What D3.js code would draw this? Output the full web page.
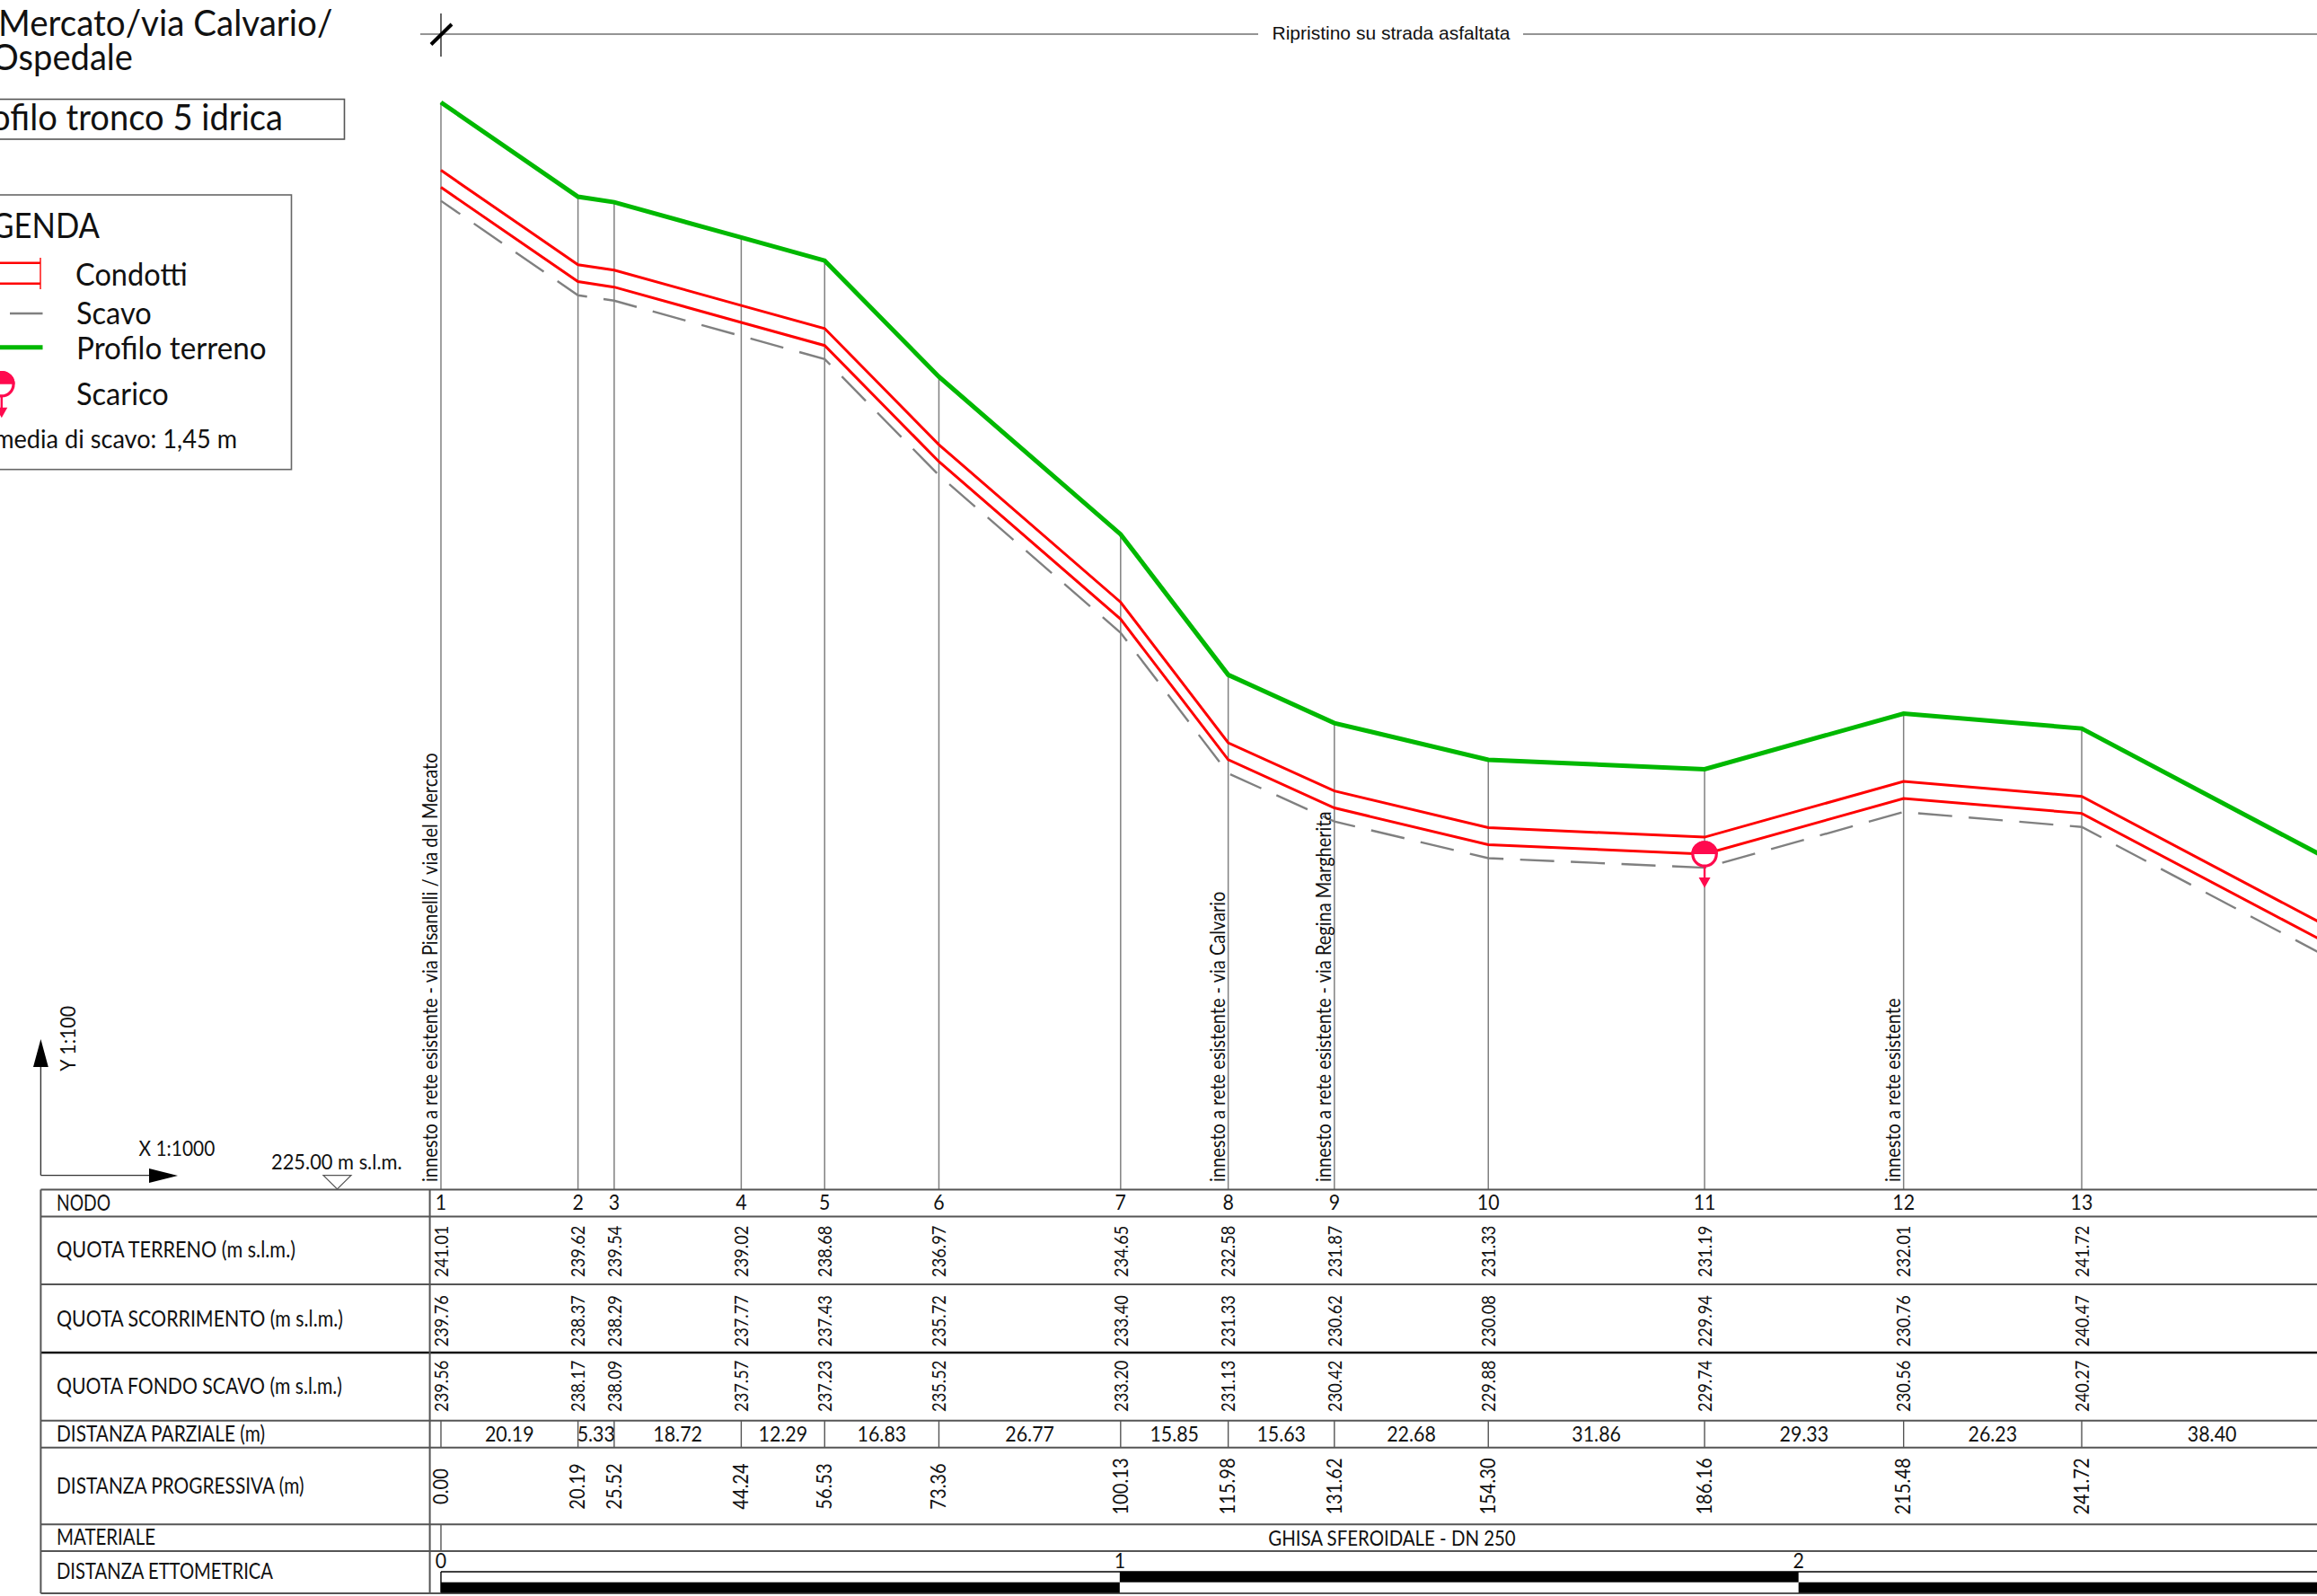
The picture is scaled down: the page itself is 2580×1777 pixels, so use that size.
<!DOCTYPE html>
<html>
<head>
<meta charset="utf-8">
<script src="https://cdnjs.cloudflare.com/ajax/libs/d3/7.8.5/d3.min.js"></script>
<style>
body { margin: 0; background: #fff; }
svg { display: block; }
text { font-family: Lato, sans-serif; fill: #111; }
</style>
</head>
<body>
<svg id="chart" width="2580" height="1777"></svg>
<script>
// table values as printed
const nodi = ["1","2","3","4","5","6","7","8","9","10","11","12","13"];
const quotaTerreno = ["241.01","239.62","239.54","239.02","238.68","236.97","234.65","232.58","231.87","231.33","231.19","232.01","241.72"];
const quotaScorrimento = ["239.76","238.37","238.29","237.77","237.43","235.72","233.40","231.33","230.62","230.08","229.94","230.76","240.47"];
const quotaFondo = ["239.56","238.17","238.09","237.57","237.23","235.52","233.20","231.13","230.42","229.88","229.74","230.56","240.27"];
const distParziale = ["20.19","5.33","18.72","12.29","16.83","26.77","15.85","15.63","22.68","31.86","29.33","26.23","38.40"];
const distProgressiva = [0, 20.19, 25.52, 44.24, 56.53, 73.36, 100.13, 115.98, 131.62, 154.30, 186.16, 215.48, 241.72, 280.12];

// drawn profiles, node 13 reads 231.79 on the plot (table says 241.72), node 14 is past the edge
const profiloTerreno = [241.01,239.62,239.54,239.02,238.68,236.97,234.65,232.58,231.87,231.33,231.19,232.01,231.79,229.76];
const scorrimento = [239.76,238.37,238.29,237.77,237.43,235.72,233.40,231.33,230.62,230.08,229.94,230.76,230.54,228.51];
const fondoScavo = [239.56,238.17,238.09,237.57,237.23,235.52,233.20,231.13,230.42,229.88,229.74,230.56,230.34,228.31];
const diametro = 0.25;

const ettometri = [0, 100, 200];
const ettoLabels = ["0", "1", "2"];
const note = [
    {nodo: 0, testo: "innesto a rete esistente - via Pisanelli / via del Mercato"},
    {nodo: 7, testo: "innesto a rete esistente - via Calvario"},
    {nodo: 8, testo: "innesto a rete esistente - via Regina Margherita"},
    {nodo: 11, testo: "innesto a rete esistente"}
];
const rowLabels = ["NODO","QUOTA TERRENO (m s.l.m.)","QUOTA SCORRIMENTO (m s.l.m.)","QUOTA FONDO SCAVO (m s.l.m.)","DISTANZA PARZIALE (m)","DISTANZA PROGRESSIVA (m)","MATERIALE","DISTANZA ETTOMETRICA"];
const rowBaselines = [1347.6, 1399.7, 1476.9, 1551.5, 1604.9, 1662.6, 1720.4, 1758.3];
const rowWidths = [60, 266, 319, 318, 232, 275.5, 110, 241];
const rowLines = [1324.5, 1354.5, 1430, 1506, 1581.7, 1611.7, 1697.3, 1727, 1774];

const svg = d3.select("#chart");
const x = d3.scaleLinear().domain([0, 241.72]).range([491, 2318]);
const y = d3.scaleLinear().domain([225, 241.01]).range([1324.5, 114]);

const GREEN = "#00b800", RED = "#ff0000", GREY = "#808080", PINK = "#ff0a4e";

// Lato is wider than the Calibri of the drawing, squeeze it a bit
function narrow(sel, k = 0.89) {
    sel.each(function() {
        const len = this.getComputedTextLength();
        d3.select(this).attr("textLength", len * k).attr("lengthAdjust", "spacingAndGlyphs");
    });
    return sel;
}

function hline(x1, x2, yy, col, w) {
    return svg.append("line").attr("x1", x1).attr("x2", x2).attr("y1", yy).attr("y2", yy).attr("stroke", col).attr("stroke-width", w);
}
function vline(xx, y1, y2, col, w) {
    return svg.append("line").attr("x1", xx).attr("x2", xx).attr("y1", y1).attr("y2", y2).attr("stroke", col).attr("stroke-width", w);
}

function label(txt, xx, yy, size, anchor = "start", k = 0.89) {
    return svg.append("text").attr("x", xx).attr("y", yy).attr("font-size", size).attr("text-anchor", anchor).text(txt).call(narrow, k);
}

/* node verticals */
svg.append("g").selectAll("line")
    .data(distProgressiva)
    .join("line")
    .attr("x1", d => x(d)).attr("x2", d => x(d))
    .attr("y1", (d, i) => y(profiloTerreno[i]))
    .attr("y2", rowLines[0])
    .attr("stroke", GREY).attr("stroke-width", 1.5);

/* profiles */
const line = d3.line().x((d, i) => x(distProgressiva[i])).y(d => y(d));

svg.append("path").attr("d", line(fondoScavo)).attr("fill", "none")
    .attr("stroke", GREY).attr("stroke-width", 2.4)
    .attr("stroke-dasharray", "38 18.5").attr("stroke-dashoffset", 12);
svg.append("path").attr("d", line(scorrimento)).attr("fill", "none").attr("stroke", RED).attr("stroke-width", 3);
svg.append("path").attr("d", line(scorrimento.map(d => d + diametro))).attr("fill", "none").attr("stroke", RED).attr("stroke-width", 3);
svg.append("path").attr("d", line(profiloTerreno)).attr("fill", "none").attr("stroke", GREEN).attr("stroke-width", 5);

/* discharge symbol */
function scarico(cx, cy) {
    const g = svg.append("g").attr("transform", `translate(${cx},${cy})`);
    g.append("circle").attr("r", 13.2).attr("fill", "#fff").attr("stroke", PINK).attr("stroke-width", 3.2);
    g.append("path").attr("d", d3.arc()({innerRadius: 0, outerRadius: 14.8, startAngle: -Math.PI / 2, endAngle: Math.PI / 2})).attr("fill", PINK);
    g.append("line").attr("y1", 14).attr("y2", 27).attr("stroke", PINK).attr("stroke-width", 2.4);
    g.append("path").attr("d", "M-6.5,26 L6.5,26 L0,37.6 Z").attr("fill", PINK);
}
scarico(x(distProgressiva[10]), y(scorrimento[10]));

/* top strip */
hline(468, 1401, 38, "#707070", 1.6);
hline(1696, 2580, 38, "#707070", 1.6);
vline(x(0), 15, 63, "#333", 1.5);
svg.append("line").attr("x1", 480).attr("y1", 49.5).attr("x2", 503).attr("y2", 27).attr("stroke", "#000").attr("stroke-width", 4);
svg.append("text").attr("x", 1549).attr("y", 43.5).attr("font-size", 21).attr("text-anchor", "middle")
    .style("font-family", "'Liberation Sans', Arial, sans-serif").text("Ripristino su strada asfaltata");

/* title + legend (cut by the left edge of the sheet) */
label("Mercato/via Calvario/", -2, 39.5, 41, "start", 0.94);
label("Ospedale", 148, 77.5, 41, "end", 0.93);
svg.append("rect").attr("x", -20).attr("y", 110.5).attr("width", 403.5).attr("height", 44.5).attr("fill", "none").attr("stroke", "#555").attr("stroke-width", 1.6);
label("Profilo tronco 5 idrica", 315, 145.2, 41, "end", 0.93);

svg.append("rect").attr("x", -20).attr("y", 217).attr("width", 344.5).attr("height", 305.7).attr("fill", "none").attr("stroke", "#666").attr("stroke-width", 1.6);
label("LEGENDA", 111, 265, 38, "end", 0.91);
label("Condotti", 84, 318, 35, "start", 0.93);
label("Scavo", 85, 361, 35, "start", 0.93);
label("Profilo terreno", 85, 400, 35, "start", 0.95);
label("Scarico", 85, 451, 35, "start", 0.93);
label("media di scavo: 1,45 m", 264, 499, 29.5, "end", 0.92);
hline(0, 45, 292.7, RED, 2.4);
hline(0, 45, 315.8, RED, 2.4);
vline(45, 287, 322, RED, 1.4);
hline(11, 47.5, 349, GREY, 2.4);
hline(0, 47.5, 386.7, GREEN, 5);
scarico(1.8, 427.7);

/* scale arrows */
vline(45.4, 1187, 1308.6, "#333", 1.4);
hline(45.4, 166, 1308.6, "#333", 1.4);
svg.append("path").attr("d", "M45.4,1157 L37,1188 L53.8,1188 Z").attr("fill", "#000");
svg.append("path").attr("d", "M198,1309 L166,1301 L166,1317 Z").attr("fill", "#000");
label("X 1:1000", 154.6, 1286.6, 24, "start", 0.87);
label("225.00 m s.l.m.", 302, 1301.7, 24, "start", 0.91);
svg.append("text").attr("transform", "translate(84,1192.7) rotate(-90)").attr("font-size", 24).text("Y 1:100").call(narrow);
svg.append("path").attr("d", "M360,1308.6 L391,1308.6 L375.5,1324 Z").attr("fill", "#fff").attr("stroke", "#555").attr("stroke-width", 1.2);

/* notes on the verticals */
svg.append("g").selectAll("text")
    .data(note)
    .join("text")
    .attr("transform", d => `translate(${x(distProgressiva[d.nodo]) - 4},1316) rotate(-90)`)
    .attr("font-size", 22.5)
    .text(d => d.testo)
    .call(narrow, 0.89);

/* table grid */
rowLines.forEach((yy, i) => hline(45.4, 2580, yy, i === 3 ? "#111" : "#555", i === 3 ? 2.6 : 2));
vline(45.4, rowLines[0], rowLines[8], "#555", 2);
vline(478.6, rowLines[0], rowLines[8], "#555", 2);

svg.append("g").selectAll("line")
    .data(distProgressiva)
    .join("line")
    .attr("x1", d => x(d)).attr("x2", d => x(d))
    .attr("y1", rowLines[4]).attr("y2", rowLines[5])
    .attr("stroke", "#555").attr("stroke-width", 1.4);
vline(x(0), rowLines[6], rowLines[7], "#555", 1.4);

rowLabels.forEach((t, i) => {
    svg.append("text").attr("x", 63).attr("y", rowBaselines[i]).attr("font-size", 24.5)
        .attr("textLength", rowWidths[i]).attr("lengthAdjust", "spacingAndGlyphs").text(t);
});

/* table columns */
svg.append("g").selectAll("text")
    .data(nodi)
    .join("text")
    .attr("x", (d, i) => x(distProgressiva[i]))
    .attr("y", 1347.2)
    .attr("font-size", 24)
    .attr("text-anchor", "middle")
    .text(d => d)
    .call(narrow);

function verticalColumn(values, cy, size, k) {
    svg.append("g").selectAll("text")
        .data(values)
        .join("text")
        .attr("transform", (d, i) => `translate(${x(distProgressiva[i]) + 7.7},${cy}) rotate(-90)`)
        .attr("font-size", size)
        .attr("text-anchor", "middle")
        .text(d => d)
        .call(narrow, k);
}
verticalColumn(quotaTerreno, 1393.3, 21.5, 0.85);
verticalColumn(quotaScorrimento, 1470.8, 21.5, 0.85);
verticalColumn(quotaFondo, 1543.3, 21.5, 0.85);
verticalColumn(distProgressiva.slice(0, 13).map(d => d.toFixed(2)), 1655, 23, 0.875);

svg.append("g").selectAll("text")
    .data(distParziale)
    .join("text")
    .attr("x", (d, i) => (x(distProgressiva[i]) + x(distProgressiva[i + 1])) / 2)
    .attr("y", 1604.5)
    .attr("font-size", 24)
    .attr("text-anchor", "middle")
    .text(d => d)
    .call(narrow);

label("GHISA SFEROIDALE - DN 250", 1550, 1720.5, 24, "middle", 0.85);

/* hectometric bar */
svg.append("g").selectAll("text")
    .data(ettometri)
    .join("text")
    .attr("x", d => x(d))
    .attr("y", 1746)
    .attr("font-size", 24)
    .attr("text-anchor", "middle")
    .text((d, i) => ettoLabels[i])
    .call(narrow);

const barEnd = 2580;
hline(x(0), barEnd, 1750, "#000", 1.4);
vline(x(0), 1750, 1773, "#000", 1.4);
svg.append("g").selectAll("rect")
    .data(ettometri)
    .join("rect")
    .attr("x", d => x(d))
    .attr("y", (d, i) => i % 2 ? 1750 : 1761.7)
    .attr("width", d => Math.min(x(d + 100), barEnd) - x(d))
    .attr("height", (d, i) => i % 2 ? 11.7 : 11.8)
    .attr("fill", "#000");
</script>
</body>
</html>
